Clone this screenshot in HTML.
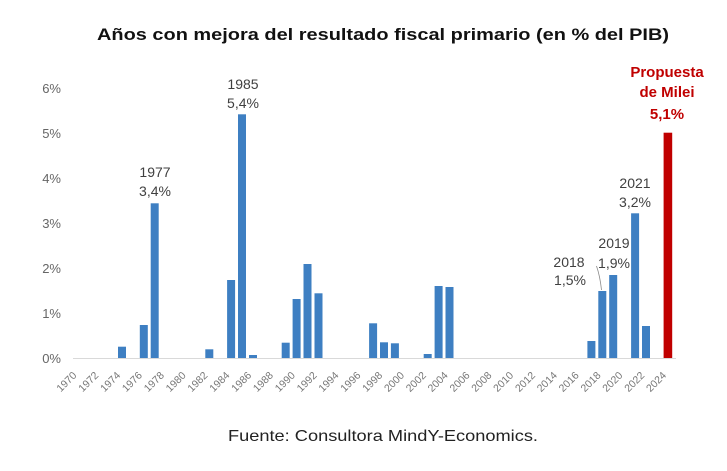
<!DOCTYPE html>
<html>
<head>
<meta charset="utf-8">
<style>
  html,body{margin:0;padding:0;background:#fff;}
  body{width:727px;height:471px;overflow:hidden;}
  svg{display:block;}
</style>
</head>
<body>
<svg width="727" height="471" viewBox="0 0 727 471" xmlns="http://www.w3.org/2000/svg" font-family="Liberation Sans, Arial, sans-serif">
  <rect x="0" y="0" width="727" height="471" fill="#ffffff"/>
  <!-- Title -->
  <text x="383" y="40" text-anchor="middle" font-size="17" font-weight="bold" fill="#111" textLength="572" lengthAdjust="spacingAndGlyphs">Años con mejora del resultado fiscal primario (en % del PIB)</text>

  <!-- Y axis labels -->
  <g font-size="13" fill="#666" text-anchor="end">
    <text x="61" y="363">0%</text>
    <text x="61" y="318">1%</text>
    <text x="61" y="273">2%</text>
    <text x="61" y="228">3%</text>
    <text x="61" y="183">4%</text>
    <text x="61" y="138">5%</text>
    <text x="61" y="93">6%</text>
  </g>

  <!-- baseline -->
  <line x1="73" y1="358.5" x2="676" y2="358.5" stroke="#d9d9d9" stroke-width="1"/>

  <!-- Bars -->
  <g fill="#3e7fc2">
    <rect x="118.0" y="346.7" width="8" height="11.3"/>
    <rect x="139.8" y="325" width="8" height="33"/>
    <rect x="150.7" y="203.3" width="8" height="154.7"/>
    <rect x="205.3" y="349.3" width="8" height="8.7"/>
    <rect x="227.1" y="280" width="8" height="78"/>
    <rect x="238.0" y="114.3" width="8" height="243.7"/>
    <rect x="249.0" y="355" width="8" height="3"/>
    <rect x="281.7" y="342.7" width="8" height="15.3"/>
    <rect x="292.6" y="299" width="8" height="59"/>
    <rect x="303.5" y="264" width="8" height="94"/>
    <rect x="314.5" y="293.3" width="8" height="64.7"/>
    <rect x="369.1" y="323.3" width="8" height="34.7"/>
    <rect x="380.0" y="342.3" width="8" height="15.7"/>
    <rect x="390.9" y="343.3" width="8" height="14.7"/>
    <rect x="423.7" y="354" width="8" height="4"/>
    <rect x="434.6" y="286" width="8" height="72"/>
    <rect x="445.5" y="287" width="8" height="71"/>
    <rect x="587.4" y="341" width="8" height="17"/>
    <rect x="598.3" y="291" width="8" height="67"/>
    <rect x="609.2" y="275" width="8" height="83"/>
    <rect x="631.1" y="213.3" width="8" height="144.7"/>
    <rect x="642.0" y="326" width="8" height="32"/>
  </g>
  <rect x="663.6" y="132.7" width="8.6" height="225.3" fill="#c00000"/>

  <!-- X labels -->
  <g font-size="10.5" fill="#777" text-anchor="end">
    <text transform="translate(77.3,376) rotate(-45)">1970</text>
    <text transform="translate(99.1,376) rotate(-45)">1972</text>
    <text transform="translate(121.0,376) rotate(-45)">1974</text>
    <text transform="translate(142.8,376) rotate(-45)">1976</text>
    <text transform="translate(164.7,376) rotate(-45)">1978</text>
    <text transform="translate(186.5,376) rotate(-45)">1980</text>
    <text transform="translate(208.3,376) rotate(-45)">1982</text>
    <text transform="translate(230.2,376) rotate(-45)">1984</text>
    <text transform="translate(252.0,376) rotate(-45)">1986</text>
    <text transform="translate(273.8,376) rotate(-45)">1988</text>
    <text transform="translate(295.7,376) rotate(-45)">1990</text>
    <text transform="translate(317.5,376) rotate(-45)">1992</text>
    <text transform="translate(339.3,376) rotate(-45)">1994</text>
    <text transform="translate(361.2,376) rotate(-45)">1996</text>
    <text transform="translate(383.0,376) rotate(-45)">1998</text>
    <text transform="translate(404.9,376) rotate(-45)">2000</text>
    <text transform="translate(426.7,376) rotate(-45)">2002</text>
    <text transform="translate(448.5,376) rotate(-45)">2004</text>
    <text transform="translate(470.4,376) rotate(-45)">2006</text>
    <text transform="translate(492.2,376) rotate(-45)">2008</text>
    <text transform="translate(514.0,376) rotate(-45)">2010</text>
    <text transform="translate(535.9,376) rotate(-45)">2012</text>
    <text transform="translate(557.7,376) rotate(-45)">2014</text>
    <text transform="translate(579.5,376) rotate(-45)">2016</text>
    <text transform="translate(601.4,376) rotate(-45)">2018</text>
    <text transform="translate(623.2,376) rotate(-45)">2020</text>
    <text transform="translate(645.1,376) rotate(-45)">2022</text>
    <text transform="translate(666.9,376) rotate(-45)">2024</text>
  </g>

  <!-- Annotations -->
  <g font-size="14" fill="#404040" text-anchor="middle">
    <text x="155" y="177">1977</text>
    <text x="155" y="196">3,4%</text>
    <text x="243" y="89">1985</text>
    <text x="243" y="108">5,4%</text>
    <text x="635" y="188">2021</text>
    <text x="635" y="207">3,2%</text>
    <text x="614" y="248">2019</text>
    <text x="614" y="268">1,9%</text>
    <text x="569" y="267">2018</text>
    <text x="570" y="285">1,5%</text>
  </g>
  <path d="M596.5,266 Q600,276 601.5,290" fill="none" stroke="#888" stroke-width="0.8"/>

  <g font-size="15" font-weight="bold" fill="#c00000" text-anchor="middle">
    <text x="667" y="77">Propuesta</text>
    <text x="667" y="97">de Milei</text>
    <text x="667" y="119">5,1%</text>
  </g>

  <!-- Footer -->
  <text x="383" y="441" text-anchor="middle" font-size="16" fill="#222" textLength="310" lengthAdjust="spacingAndGlyphs">Fuente: Consultora MindY-Economics.</text>
</svg>
</body>
</html>
